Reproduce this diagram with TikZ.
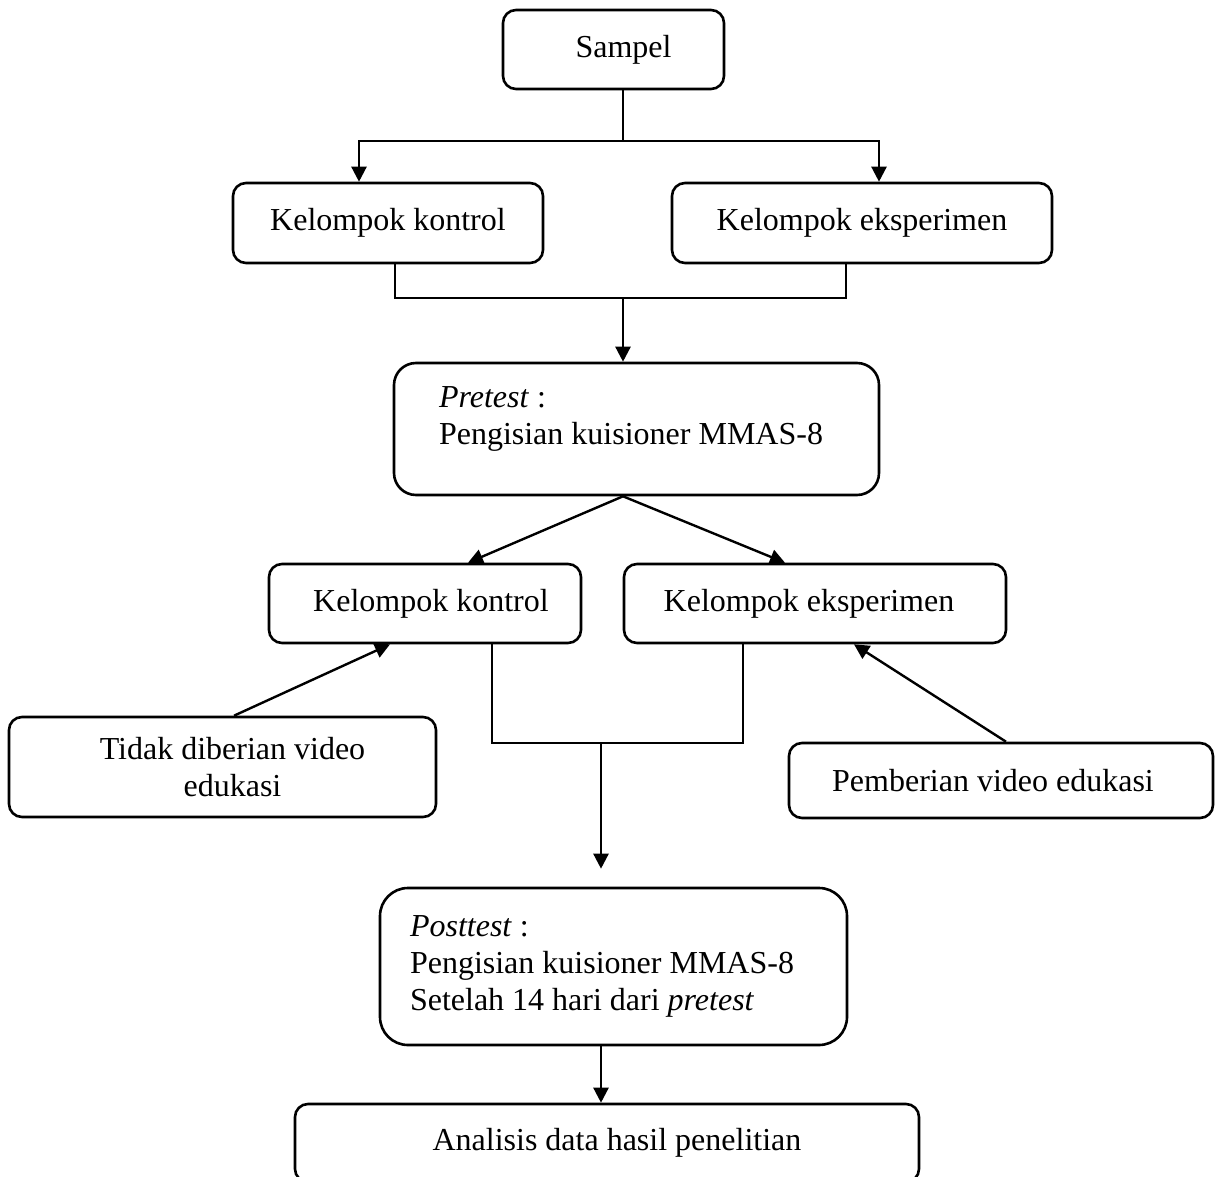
\documentclass[tikz,border=0pt]{standalone}
\usepackage{fontspec}
\setmainfont{Liberation Serif}
\usetikzlibrary{arrows.meta,calc}
\begin{document}
\begin{tikzpicture}[x=0.5pt,y=-0.5pt,
  box/.style={draw,line width=1.3pt,rounded corners=6.5pt,inner sep=0pt,align=center,
    font=\fontsize{16}{18.5}\selectfont},
  bigbox/.style={box,rounded corners=11pt,align=left},
  conn/.style={line width=1.2pt},
  arr/.style={conn,-{Triangle[length=7.5pt,width=7.5pt]}}]
\useasboundingbox (0,0) rectangle (1215,1177);
% boxes
\node[box,minimum width=110.5pt,minimum height=39.5pt] (sampel) at (613.5,49.5) {\hspace*{10pt}Sampel};
\node[box,minimum width=155pt,minimum height=40pt] (k1) at (388,223) {Kelompok kontrol};
\node[box,minimum width=190pt,minimum height=40pt] (e1) at (862,223) {Kelompok eksperimen};
\node[bigbox,minimum width=242.5pt,minimum height=66pt,text width=197.5pt,inner xsep=22.5pt] (pre) at (636.5,429)
  {\spaceskip=4pt\xspaceskip=4pt\textit{Pretest} :\\Pengisian kuisioner MMAS-8\\[-5.5pt]\mbox{}};
\node[box,minimum width=156pt,minimum height=39.5pt] (k2) at (425,603.5) {\hspace*{6pt}Kelompok kontrol};
\node[box,minimum width=191pt,minimum height=39.5pt] (e2) at (815,603.5) {Kelompok eksperimen\hspace*{6pt}};
\node[box,minimum width=213.5pt,minimum height=50pt] (tidak) at (222.5,767) {\hspace*{10pt}Tidak diberian video\\\hspace*{10pt}edukasi};
\node[box,minimum width=212pt,minimum height=37.5pt] (pemb) at (1001,780.5) {Pemberian video edukasi\hspace*{8pt}};
\node[bigbox,rounded corners=14pt,minimum width=233.5pt,minimum height=78.5pt,text width=203.5pt,inner xsep=15pt] (post) at (613.5,966.5)
  {\spaceskip=4pt\xspaceskip=4pt\textit{Posttest} :\\Pengisian kuisioner MMAS-8\\Setelah 14 hari dari \textit{pretest}};
\node[box,minimum width=312pt,minimum height=39pt] (anal) at (607,1143) {\hspace*{10pt}Analisis data hasil penelitian};
% junction coordinates
\coordinate (j1) at (623,141);
\coordinate (jl) at (359,141);
\coordinate (jr) at (879,141);
\coordinate (kx) at (395,298);
\coordinate (ex) at (846,298);
\coordinate (b1) at (623,298);
\coordinate (b2) at (601,743);
% connectors
\draw[conn] (sampel.south -| j1) -- (j1);
\draw[arr] (j1) -| (jl |- k1.north);
\draw[arr] (j1) -| (jr |- e1.north);
\draw[conn] (k1.south -| kx) |- (b1) -| (e1.south -| ex);
\draw[arr] (b1) -- (b1 |- pre.north);
\draw[arr] (pre.south -| b1) -- ($(k2.north)+(43,0)$);
\draw[arr] (pre.south -| b1) -- ($(e2.north)+(-30,0)$);
\draw[arr] ($(tidak.north)+(11.5,0)$) -- ($(k2.south)+(-35,0)$);
\draw[arr] ($(pemb.north)+(5,0)$) -- ($(e2.south)+(39,0)$);
\draw[conn] ($(k2.south)+(67,0)$) |- (b2) -| ($(e2.south)+(-72,0)$);
\draw[arr] (b2) -- ($(b2 |- post.north)+(0,-18)$);
\draw[arr] (post.south -| b2) -- (b2 |- anal.north);
\end{tikzpicture}
\end{document}
